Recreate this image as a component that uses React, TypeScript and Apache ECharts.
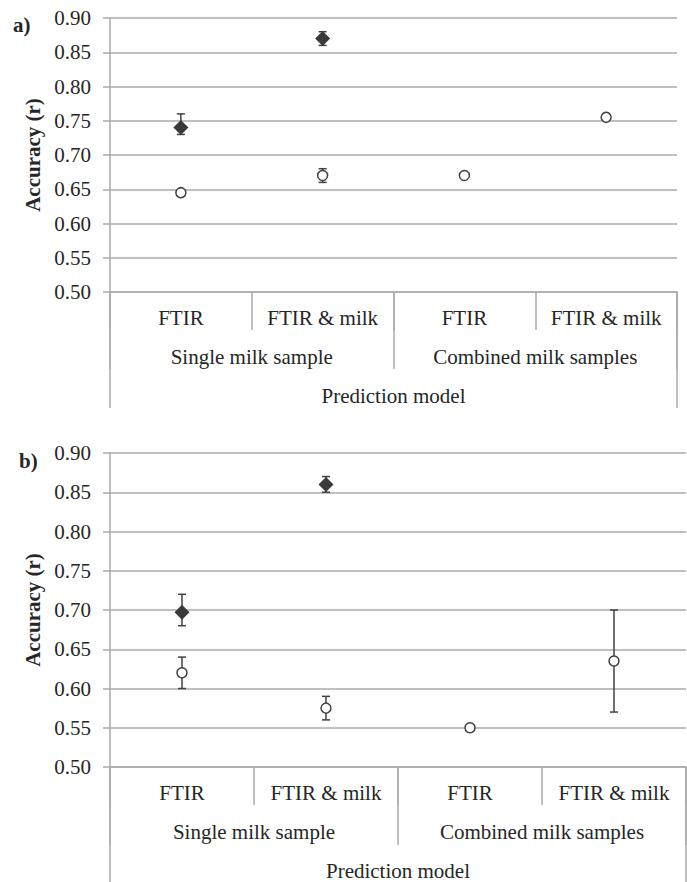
import React, { useEffect, useRef } from "react";
import * as echarts from "echarts";

// ---- data ----
const categories = ["FTIR", "FTIR & milk", "FTIR", "FTIR & milk"];
const groups = ["Single milk sample", "Combined milk samples"];
const outerTitle = ["Prediction model"];
const yMin = 0.5;
const yMax = 0.9;
const yStep = 0.05;

// panel a
const aFilled = [0.74, 0.87, null, null];
const aFilledLow = [0.73, 0.86, null, null];
const aFilledHigh = [0.76, 0.88, null, null];
const aOpen = [0.645, 0.67, 0.67, 0.755];
const aOpenLow = [null, 0.66, null, null];
const aOpenHigh = [null, 0.68, null, null];

// panel b
const bFilled = [0.697, 0.86, null, null];
const bFilledLow = [0.68, 0.85, null, null];
const bFilledHigh = [0.72, 0.87, null, null];
const bOpen = [0.62, 0.575, 0.55, 0.635];
const bOpenLow = [0.6, 0.56, null, 0.57];
const bOpenHigh = [0.64, 0.59, null, 0.7];

const FONT = "Liberation Serif";
const TEXT = "#262626";
const GRID = "#ababab";
const MARK = "#3a3a3a";

function errData(low: (number | null)[], high: (number | null)[]) {
  const out: number[][] = [];
  low.forEach((l, i) => {
    const h = high[i];
    if (l != null && h != null) out.push([i, l, h]);
  });
  return out;
}

function renderErr(params: any, api: any) {
  const x = api.value(0);
  const lo = api.coord([x, api.value(1)]);
  const hi = api.coord([x, api.value(2)]);
  const cap = 4;
  const style = { stroke: "#404040", lineWidth: 1.5 };
  return {
    type: "group",
    children: [
      { type: "line", shape: { x1: lo[0], y1: lo[1], x2: hi[0], y2: hi[1] }, style },
      { type: "line", shape: { x1: lo[0] - cap, y1: lo[1], x2: lo[0] + cap, y2: lo[1] }, style },
      { type: "line", shape: { x1: hi[0] - cap, y1: hi[1], x2: hi[0] + cap, y2: hi[1] }, style },
    ],
  };
}

function xAxesFor(gridIndex: number, smallTick: number, groupTick: number, outerTick: number) {
  const lbl = { fontFamily: FONT, fontSize: 21, color: TEXT, interval: 0 };
  return [
    {
      type: "category",
      gridIndex,
      data: categories,
      position: "bottom",
      boundaryGap: true,
      axisLine: { show: true, lineStyle: { color: GRID, width: 1.5 } },
      axisTick: { show: true, length: smallTick, interval: 0, lineStyle: { color: GRID, width: 1.5 } },
      axisLabel: { ...lbl, margin: 15 },
      splitLine: { show: false },
    },
    {
      type: "category",
      gridIndex,
      data: groups,
      position: "bottom",
      boundaryGap: true,
      axisLine: { show: false },
      axisTick: { show: true, length: groupTick, interval: 0, lineStyle: { color: GRID, width: 1.5 } },
      axisLabel: { ...lbl, margin: 54 },
      splitLine: { show: false },
    },
    {
      type: "category",
      gridIndex,
      data: outerTitle,
      position: "bottom",
      boundaryGap: true,
      axisLine: { show: false },
      axisTick: { show: true, length: outerTick, interval: 0, lineStyle: { color: GRID, width: 1.5 } },
      axisLabel: { ...lbl, margin: 93 },
      splitLine: { show: false },
    },
  ];
}

function yAxisFor(gridIndex: number) {
  return {
    type: "value",
    gridIndex,
    min: yMin,
    max: yMax,
    interval: yStep,
    name: "Accuracy (r)",
    nameLocation: "middle",
    nameRotate: 90,
    nameGap: 62,
    nameTextStyle: { fontFamily: FONT, fontSize: 21, fontWeight: "bold", color: TEXT },
    axisLine: { show: true, lineStyle: { color: GRID, width: 1.5 } },
    axisTick: { show: true, length: 7, lineStyle: { color: GRID, width: 1.5 } },
    axisLabel: {
      fontFamily: FONT,
      fontSize: 21,
      color: TEXT,
      margin: 19,
      formatter: (v: number) => v.toFixed(2),
    },
    splitLine: { show: true, lineStyle: { color: GRID, width: 1.5 } },
  };
}

function panelSeries(
  xIdx: number,
  yIdx: number,
  filled: (number | null)[],
  fLow: (number | null)[],
  fHigh: (number | null)[],
  open: (number | null)[],
  oLow: (number | null)[],
  oHigh: (number | null)[]
) {
  return [
    {
      type: "custom",
      xAxisIndex: xIdx,
      yAxisIndex: yIdx,
      renderItem: renderErr,
      data: errData(fLow, fHigh).concat(errData(oLow, oHigh)),
      z: 1,
      silent: true,
    },
    {
      type: "scatter",
      name: "filled",
      xAxisIndex: xIdx,
      yAxisIndex: yIdx,
      symbol: "diamond",
      symbolSize: [15, 15],
      itemStyle: { color: MARK, opacity: 1 },
      data: filled.map((v) => (v == null ? "-" : v)),
      z: 3,
    },
    {
      type: "scatter",
      name: "open",
      xAxisIndex: xIdx,
      yAxisIndex: yIdx,
      symbol: "circle",
      symbolSize: 10,
      itemStyle: { color: "#ffffff", borderColor: "#404040", borderWidth: 1.5, opacity: 1 },
      data: open.map((v) => (v == null ? "-" : v)),
      z: 3,
    },
  ];
}

export default function App() {
  const ref = useRef<HTMLDivElement>(null);
  useEffect(() => {
    if (!ref.current) return;
    const chart = echarts.init(ref.current, null, { renderer: "svg" });
    chart.setOption({
      animation: false,
      backgroundColor: "#ffffff",
      textStyle: { fontFamily: FONT },
      grid: [
        { left: 110, top: 18, width: 567, height: 274 },
        { left: 110, top: 453, width: 576, height: 314 },
      ],
      xAxis: [...xAxesFor(0, 38, 77, 116), ...xAxesFor(1, 38, 78, 116)],
      yAxis: [yAxisFor(0), yAxisFor(1)],
      series: [
        ...panelSeries(0, 0, aFilled, aFilledLow, aFilledHigh, aOpen, aOpenLow, aOpenHigh),
        ...panelSeries(3, 1, bFilled, bFilledLow, bFilledHigh, bOpen, bOpenLow, bOpenHigh),
      ],
      graphic: [
        {
          type: "text",
          left: 13,
          top: 14,
          style: { text: "a)", fontFamily: FONT, fontSize: 21, fontWeight: "bold", fill: TEXT },
        },
        {
          type: "text",
          left: 19,
          top: 450,
          style: { text: "b)", fontFamily: FONT, fontSize: 21, fontWeight: "bold", fill: TEXT },
        },
      ],
    });
    return () => chart.dispose();
  }, []);
  return (
    <div
      ref={ref}
      style={{ position: "fixed", left: 0, top: 0, width: 687, height: 882, background: "#fff" }}
    />
  );
}
